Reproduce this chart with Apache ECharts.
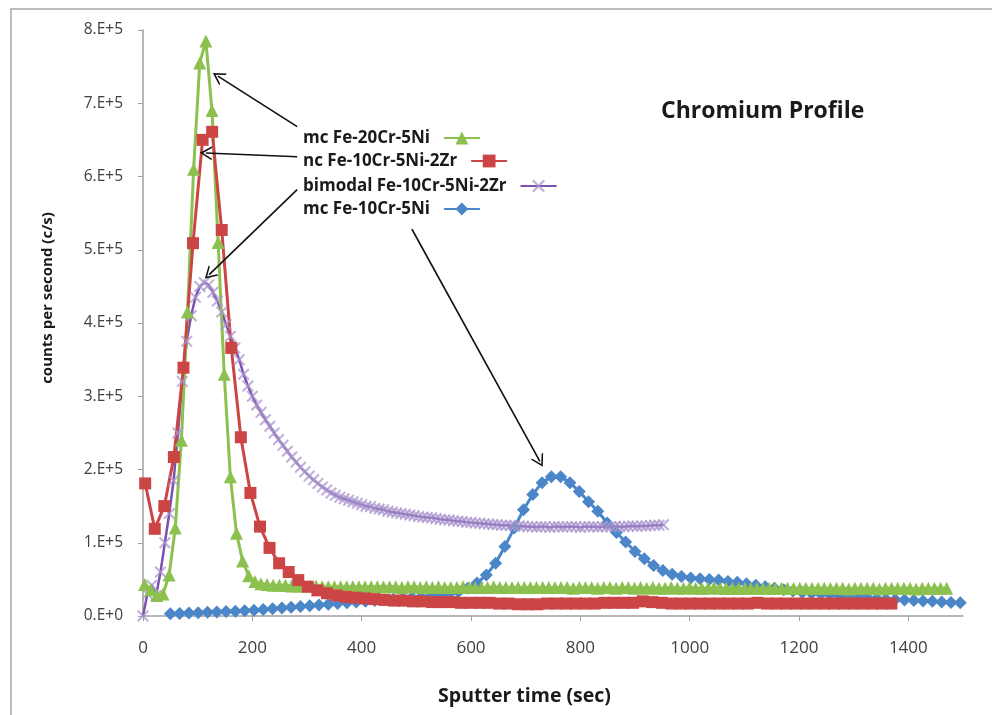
<!DOCTYPE html>
<html>
<head>
<meta charset="utf-8">
<script src="https://cdn.jsdelivr.net/npm/echarts@6/dist/echarts.min.js"></script>
<style>
  html, body { margin: 0; padding: 0; background: #fff; }
  #chart { width: 992px; height: 715px; }
</style>
</head>
<body>
<div id="chart"></div>
<script>
// counts are in units of 1e5 c/s; each profile is sampled on a regular time step (sec)
const xTicks = [0, 200, 400, 600, 800, 1000, 1200, 1400];

const greenName = 'mc Fe-20Cr-5Ni';
const greenStart = 3, greenStep = 11.2;
const greenVals = [
  0.43, 0.36, 0.28, 0.30, 0.56, 1.2, 2.4, 4.15, 6.1, 7.55, 7.85, 6.9, 5.1, 3.3, 1.9, 1.13, 0.75, 0.55, 0.47, 0.44, 0.43,
  0.42, 0.42, 0.42, 0.41, 0.41, 0.41, 0.41, 0.41, 0.40, 0.40,
  0.40, 0.40, 0.40, 0.40, 0.40, 0.40, 0.40, 0.40, 0.40, 0.40,
  0.40, 0.39, 0.40, 0.40, 0.39, 0.40, 0.39, 0.40, 0.39, 0.39,
  0.39, 0.40, 0.39, 0.39, 0.39, 0.39, 0.40, 0.39, 0.39, 0.39,
  0.39, 0.39, 0.39, 0.39, 0.39, 0.39, 0.39, 0.39, 0.39, 0.38,
  0.39, 0.39, 0.39, 0.38, 0.39, 0.39, 0.38, 0.39, 0.39, 0.38,
  0.39, 0.38, 0.39, 0.38, 0.38, 0.39, 0.38, 0.38, 0.39, 0.38,
  0.38, 0.38, 0.39, 0.38, 0.38, 0.38, 0.38, 0.38, 0.38, 0.38,
  0.38, 0.38, 0.38, 0.38, 0.38, 0.38, 0.38, 0.38, 0.38, 0.38,
  0.38, 0.38, 0.38, 0.38, 0.37, 0.38, 0.38, 0.38, 0.38, 0.37,
  0.38, 0.38, 0.38, 0.38, 0.38, 0.37, 0.38, 0.38, 0.38, 0.38, 0.38
];

const redName = 'nc Fe-10Cr-5Ni-2Zr';
const redStart = 4, redStep = 17.5;
const redVals = [
  1.81, 1.19, 1.50, 2.17, 3.39, 5.09, 6.50, 6.61, 5.27, 3.66, 2.44, 1.68, 1.22, 0.93, 0.72, 0.60, 0.49,
  0.40, 0.35, 0.31, 0.28, 0.26, 0.25, 0.24, 0.23, 0.22, 0.21,
  0.21, 0.20, 0.20, 0.19, 0.19, 0.19, 0.18, 0.18, 0.18, 0.18,
  0.17, 0.17, 0.16, 0.16, 0.16, 0.17, 0.17, 0.17, 0.17, 0.17,
  0.17, 0.18, 0.18, 0.18, 0.18, 0.20, 0.19, 0.18, 0.17, 0.17,
  0.17, 0.17, 0.17, 0.17, 0.17, 0.17, 0.17, 0.18, 0.17, 0.17,
  0.17, 0.17, 0.17, 0.17, 0.17, 0.17, 0.17, 0.17, 0.17, 0.17, 0.17, 0.17
];

const purpleName = 'bimodal Fe-10Cr-5Ni-2Zr';
const purpleStart = 0, purpleStep = 8;
const purpleVals = [
  0, 0.30, 0.42, 0.28, 0.60, 1.00, 1.40, 1.85, 2.50, 3.20,
  3.75, 4.10, 4.35, 4.50, 4.55, 4.52, 4.42, 4.30, 4.15, 3.98,
  3.82, 3.66, 3.50, 3.30, 3.14, 3.00, 2.88, 2.78, 2.68, 2.59,
  2.50, 2.41, 2.33, 2.25, 2.17, 2.10, 2.03, 1.97, 1.91, 1.86,
  1.81, 1.76, 1.72, 1.68, 1.65, 1.62, 1.60, 1.58, 1.56, 1.54,
  1.52, 1.50, 1.49, 1.47, 1.46, 1.45, 1.43, 1.42, 1.41, 1.40,
  1.39, 1.38, 1.37, 1.36, 1.35, 1.345, 1.34, 1.33, 1.32, 1.315,
  1.31, 1.30, 1.295, 1.29, 1.28, 1.275, 1.27, 1.265, 1.26, 1.255,
  1.25, 1.245, 1.24, 1.24, 1.235, 1.23, 1.23, 1.225,
  1.22, 1.22, 1.215, 1.22, 1.22, 1.21, 1.22, 1.22, 1.215, 1.22,
  1.22, 1.22, 1.21, 1.22, 1.22, 1.22, 1.215, 1.22, 1.22, 1.22,
  1.225, 1.22, 1.22, 1.225, 1.23, 1.225, 1.23, 1.23, 1.235, 1.24,
  1.24, 1.245
];

const blueName = 'mc Fe-10Cr-5Ni';
const blueStart = 50, blueStep = 17;
const blueVals = [
  0.03, 0.035, 0.04, 0.045, 0.05, 0.055, 0.06, 0.065, 0.07, 0.08,
  0.09, 0.10, 0.11, 0.12, 0.13, 0.14, 0.15, 0.16, 0.17, 0.18,
  0.19, 0.20, 0.21, 0.22, 0.23, 0.24, 0.25, 0.26, 0.27, 0.28,
  0.30, 0.33, 0.38, 0.45, 0.56, 0.72, 0.95, 1.20, 1.45, 1.66,
  1.82, 1.90, 1.90, 1.82, 1.70, 1.56, 1.43, 1.27, 1.14, 1.01,
  0.88, 0.78, 0.69, 0.62, 0.57, 0.54, 0.52, 0.51, 0.50, 0.49,
  0.47, 0.46, 0.44, 0.42, 0.40, 0.38, 0.36, 0.34, 0.32, 0.31,
  0.30, 0.29, 0.28, 0.27, 0.26, 0.25, 0.24, 0.23, 0.225, 0.22,
  0.21, 0.205, 0.20, 0.19, 0.185, 0.18
];

// legend rows (text then icon), top-to-bottom
const legendNames = [greenName, redName, purpleName, blueName];
const legendTops = [127, 150, 175, 198];

// annotation arrows: [time, counts] from legend text to curve
const arrowFrom = [[282, 6.68], [282, 6.27], [282, 5.82], [492, 5.28]];
const arrowTo = [[137, 7.37], [115, 6.32], [121, 4.66], [726, 2.11]];

function pairs(start, step, vals) {
  return vals.map((v, i) => [+(start + i * step).toFixed(1), v]);
}

const xMark = 'path://M0,1.2 L1.2,0 L5,3.8 L8.8,0 L10,1.2 L6.2,5 L10,8.8 L8.8,10 L5,6.2 L1.2,10 L0,8.8 L3.8,5 Z';
const arrowHead = 'path://M0,12 L7,0 L14,12 L12.3,12 L7,3.2 L1.7,12 Z';
const font = 'Open Sans';

var chart = echarts.init(document.getElementById('chart'));

var option = {
  animation: false,
  backgroundColor: '#fff',
  graphic: [{
    type: 'rect',
    shape: { x: 11, y: 9, width: 1000, height: 720 },
    style: { fill: 'none', stroke: '#a6a6a6', lineWidth: 1.5 },
    silent: true
  }],
  title: {
    text: 'Chromium Profile',
    left: 656,
    top: 95,
    textStyle: { fontFamily: font, fontWeight: 'bold', fontSize: 23, color: '#1a1a1a' }
  },
  legend: legendNames.map((n, i) => ({
    data: [n],
    orient: 'vertical',
    left: 303,
    top: legendTops[i],
    padding: 0,
    align: 'right',
    itemWidth: 36,
    itemHeight: 16,
    selectedMode: false,
    textStyle: { fontFamily: font, fontWeight: 'bold', fontSize: 17, lineHeight: 22, color: '#1a1a1a', padding: [0, 9, 0, 0] }
  })),
  grid: { left: 143, right: 29, top: 30, bottom: 99, outerBoundsMode: 'none' },
  xAxis: {
    type: 'value',
    min: 0,
    max: 1500,
    interval: 200,
    name: 'Sputter time (sec)',
    nameLocation: 'middle',
    nameGap: 70,
    nameTextStyle: { fontFamily: font, fontWeight: 'bold', fontSize: 19.5, color: '#1a1a1a', padding: [0, 57, 0, 0] },
    axisLine: { lineStyle: { color: '#a0a0a0', width: 1.5 } },
    axisTick: { show: true, length: 5, lineStyle: { color: '#a0a0a0' }, customValues: xTicks },
    axisLabel: {
      customValues: xTicks,
      margin: 24,
      fontFamily: font,
      fontSize: 17,
      color: '#404040',
      formatter: function (v) { return String(v); }
    },
    splitLine: { show: false }
  },
  yAxis: {
    type: 'value',
    min: 0,
    max: 8,
    interval: 1,
    name: 'counts per second (c/s)',
    nameLocation: 'middle',
    nameGap: 88,
    nameTextStyle: { fontFamily: font, fontWeight: 'bold', fontSize: 15, color: '#1a1a1a', padding: [0, 0, 0, 50] },
    axisLine: { show: true, lineStyle: { color: '#a0a0a0', width: 1.5 } },
    axisTick: { show: true, length: 5, lineStyle: { color: '#a0a0a0' } },
    axisLabel: {
      margin: 20,
      fontFamily: font,
      fontSize: 15.5,
      color: '#404040',
      formatter: function (v) { return v === 0 ? '0.E+0' : v + '.E+5'; }
    },
    splitLine: { show: false }
  },
  series: [
    {
      name: blueName,
      type: 'line',
      data: pairs(blueStart, blueStep, blueVals),
      symbol: 'diamond',
      symbolSize: 13,
      itemStyle: { color: '#4a86c8' },
      lineStyle: { color: '#4a86c8', width: 3 },
      markLine: {
        silent: true,
        animation: false,
        symbol: ['none', arrowHead],
        symbolSize: [14, 12],
        label: { show: false },
        lineStyle: { color: '#111', width: 1.6, type: 'solid' },
        emphasis: { disabled: true },
        data: arrowFrom.map((p, i) => [{ coord: p }, { coord: arrowTo[i] }])
      }
    },
    {
      name: purpleName,
      type: 'line',
      data: pairs(purpleStart, purpleStep, purpleVals),
      symbol: xMark,
      symbolSize: 12,
      itemStyle: { color: 'rgba(170,150,205,0.75)' },
      lineStyle: { color: '#7b52ad', width: 2.5 }
    },
    {
      name: greenName,
      type: 'line',
      data: pairs(greenStart, greenStep, greenVals),
      symbol: 'triangle',
      symbolSize: 13,
      itemStyle: { color: '#8cc04f' },
      lineStyle: { color: '#8cc04f', width: 3 }
    },
    {
      name: redName,
      type: 'line',
      data: pairs(redStart, redStep, redVals),
      symbol: 'rect',
      symbolSize: 12,
      itemStyle: { color: '#cc4545' },
      lineStyle: { color: '#cc4545', width: 3 }
    }
  ]
};

option && chart.setOption(option);
</script>
</body>
</html>
